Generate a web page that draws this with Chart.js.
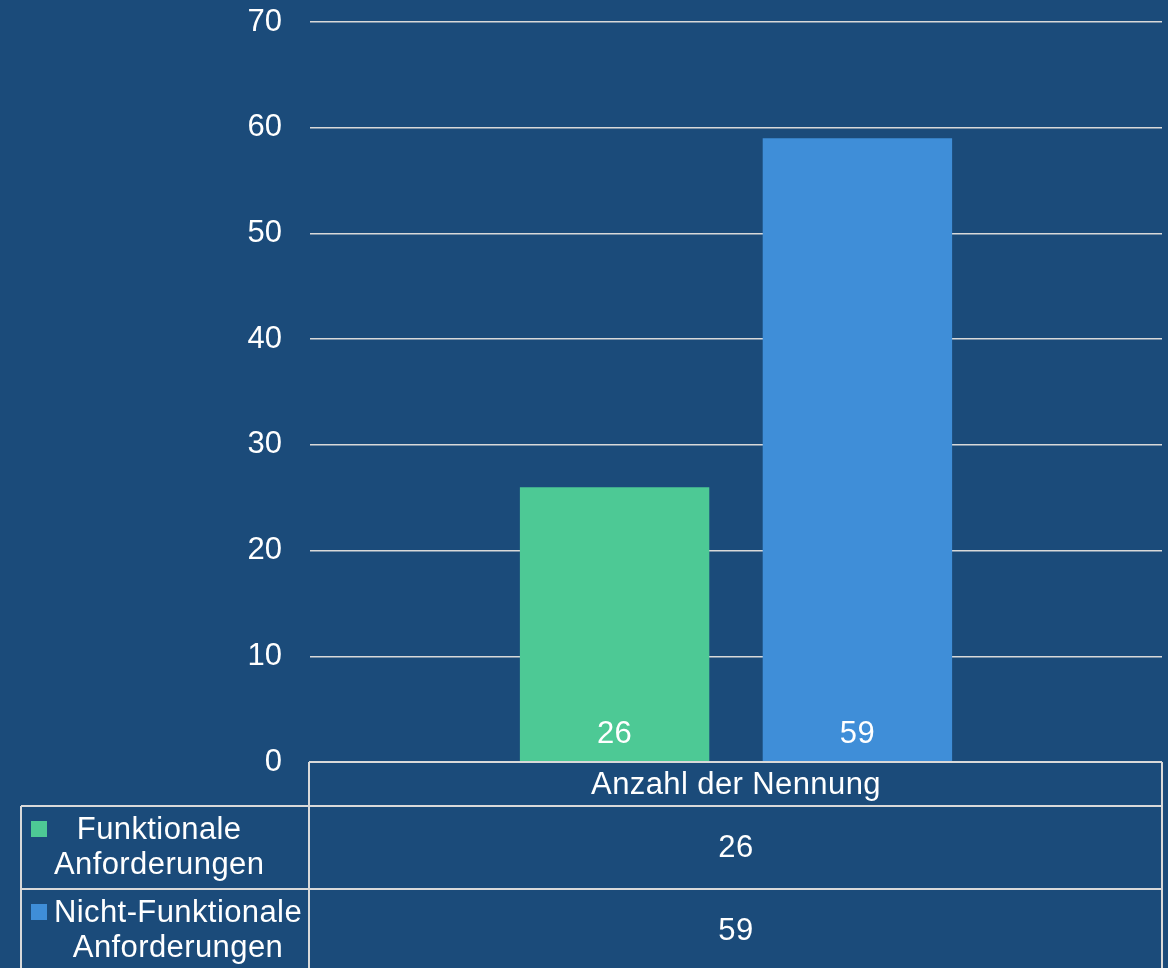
<!DOCTYPE html>
<html>
<head>
<meta charset="utf-8">
<script src="https://cdn.jsdelivr.net/npm/chart.js@4.4.0/dist/chart.umd.min.js"></script>
<style>
  body { margin: 0; background: #1b4b7a; }
  #wrap { width: 1168px; height: 968px; }
</style>
</head>
<body>
<div id="wrap"><canvas id="reqChart"></canvas></div>
<script>
// data
const categories = ['Anzahl der Nennung'];
const seriesNames = [['Funktionale', 'Anforderungen'], ['Nicht-Funktionale', 'Anforderungen']];
const funktionaleValues = [26];
const nichtFunktionaleValues = [59];
const seriesColors = ['#4dc995', '#3f8ed8'];
const yTicks = [0, 10, 20, 30, 40, 50, 60, 70];

const bgColor = '#1b4b7a';
const lineColor = '#d9d9d9';
const textFont = '31px "Liberation Sans", Arial, sans-serif';

const headerHeight = 44;
const rowHeights = [83, 83];
const tableLeft = 21;

// background fill
const bgPlugin = {
  id: 'bgPlugin',
  beforeDraw(chart) {
    const ctx = chart.ctx;
    ctx.save();
    ctx.fillStyle = bgColor;
    ctx.fillRect(0, 0, chart.width, chart.height);
    ctx.restore();
  }
};

// value labels at bottom of bars + data table under the chart
const tablePlugin = {
  id: 'tablePlugin',
  afterDraw(chart) {
    const ctx = chart.ctx;
    const area = chart.chartArea;
    const datasets = chart.data.datasets;
    ctx.save();
    ctx.font = textFont;
    ctx.letterSpacing = '0.4px';
    ctx.fillStyle = '#ffffff';
    ctx.textAlign = 'center';
    ctx.textBaseline = 'middle';

    // labels inside bars
    datasets.forEach((ds, i) => {
      chart.getDatasetMeta(i).data.forEach((bar, j) => {
        ctx.fillText(String(ds.data[j]), bar.x, area.bottom - 28);
      });
    });

    // table lines
    ctx.strokeStyle = lineColor;
    ctx.lineWidth = 2;
    const top = area.bottom;
    const row1 = top + headerHeight;
    const row2 = row1 + rowHeights[0];
    const bottom = row2 + rowHeights[1];
    const colLeft = area.left - 1;
    const right = area.right;
    ctx.beginPath();
    ctx.moveTo(colLeft, top); ctx.lineTo(right, top);
    ctx.moveTo(tableLeft, row1); ctx.lineTo(right, row1);
    ctx.moveTo(tableLeft, row2); ctx.lineTo(right, row2);
    ctx.moveTo(colLeft, top); ctx.lineTo(colLeft, bottom + 20);
    ctx.moveTo(right, top); ctx.lineTo(right, bottom + 20);
    ctx.moveTo(tableLeft, row1); ctx.lineTo(tableLeft, bottom + 20);
    ctx.stroke();

    // header
    const xScale = chart.scales.x;
    const cx = xScale.getPixelForValue(0);
    ctx.fillText(categories[0], cx, top + headerHeight / 2 + 1);

    // rows
    let rowTop = row1;
    datasets.forEach((ds, i) => {
      const h = rowHeights[i];
      const mid = rowTop + h / 2;
      ctx.fillStyle = '#ffffff';
      ctx.textAlign = 'center';
      ctx.fillText(String(ds.data[0]), cx, mid + 1);

      // legend key square
      ctx.fillStyle = seriesColors[i];
      ctx.fillRect(31, rowTop + 15, 16, 16);

      // wrapped series name, centred inside its own block
      const lines = seriesNames[i];
      const blockW = Math.max(...lines.map(l => ctx.measureText(l).width));
      const blockX = 54 + blockW / 2;
      ctx.fillStyle = '#ffffff';
      lines.forEach((l, k) => {
        ctx.fillText(l, blockX, rowTop + 24 + k * 35);
      });
      rowTop += h;
    });
    ctx.restore();
  }
};

const reqChart = new Chart(document.getElementById('reqChart'), {
  type: 'bar',
  data: {
    labels: categories,
    datasets: [{
      label: seriesNames[0].join(' '),
      data: funktionaleValues,
      backgroundColor: seriesColors[0],
      categoryPercentage: 0.57,
      barPercentage: 0.78
    }, {
      label: seriesNames[1].join(' '),
      data: nichtFunktionaleValues,
      backgroundColor: seriesColors[1],
      categoryPercentage: 0.57,
      barPercentage: 0.78
    }]
  },
  options: {
    responsive: true,
    maintainAspectRatio: false,
    animation: false,
    layout: { padding: { top: 22, right: 6, bottom: 206, left: 0 } },
    plugins: {
      legend: { display: false },
      tooltip: { enabled: false }
    },
    scales: {
      x: { display: false },
      y: {
        min: 0,
        max: 70,
        afterFit(scale) {
          scale.width = 310;
          scale.paddingTop = 0;
          scale.paddingBottom = 0;
        },
        afterBuildTicks(scale) { scale.ticks = yTicks.map(v => ({ value: v })); },
        border: { display: false },
        grid: { color: lineColor, lineWidth: 1.5, drawTicks: false },
        ticks: {
          color: '#ffffff',
          padding: 28,
          font: { family: '"Liberation Sans", Arial, sans-serif', size: 31 }
        }
      }
    }
  },
  plugins: [bgPlugin, tablePlugin]
});
</script>
</body>
</html>
